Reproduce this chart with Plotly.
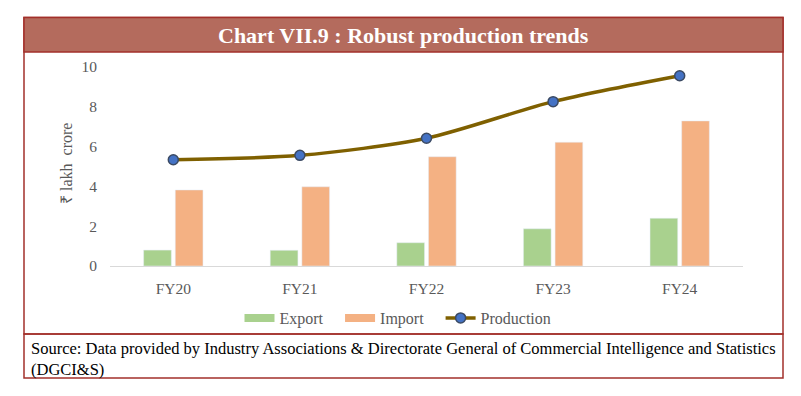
import plotly.graph_objects as go

categories = ["FY20", "FY21", "FY22", "FY23", "FY24"]
export_vals = [0.80, 0.79, 1.17, 1.87, 2.40]
import_vals = [3.82, 3.98, 5.49, 6.22, 7.29]
production_vals = [5.34, 5.56, 6.42, 8.26, 9.56]
y_ticks = [0, 2, 4, 6, 8, 10]

W, H = 801, 396
def px(x):
    return x / W
def py(y):
    return 1 - y / H

SERIF = "Liberation Serif, Georgia, serif"
GRAY = "#595959"
GREEN = "#A9D18E"
ORANGE = "#F4B183"
BROWN = "#7F6000"
BLUE = "#4472C4"
BORDER = "#A2302B"
BAND = "#B46B5D"
PAD = "\u00a0\u00a0\u00a0"

fig = go.Figure()
fig.add_trace(go.Bar(x=categories, y=export_vals, name="Export", marker_color=GREEN,
                     showlegend=False))
fig.add_trace(go.Bar(x=categories, y=import_vals, name="Import", marker_color=ORANGE,
                     showlegend=False))
# legend-only entries with wide swatches
fig.add_trace(go.Scatter(x=[None], y=[None], mode="lines", name="Export" + PAD,
                         line=dict(color=GREEN, width=8)))
fig.add_trace(go.Scatter(x=[None], y=[None], mode="lines", name="Import" + PAD,
                         line=dict(color=ORANGE, width=8)))
fig.add_trace(go.Scatter(x=categories, y=production_vals, name="Production",
                         mode="lines+markers",
                         line=dict(color=BROWN, width=3.5, shape="spline", smoothing=0.8),
                         marker=dict(size=10, color=BLUE, line=dict(color="#3B4A63", width=1.5))))

shapes = [
    dict(type="rect", xref="paper", yref="paper", x0=px(24), x1=px(783), y0=py(334), y1=py(17.5),
         line=dict(color=BORDER, width=1.5), fillcolor="rgba(0,0,0,0)", layer="below"),
    dict(type="rect", xref="paper", yref="paper", x0=px(24), x1=px(783), y0=py(52), y1=py(17.5),
         line=dict(color=BORDER, width=1.5), fillcolor=BAND, layer="below"),
    dict(type="rect", xref="paper", yref="paper", x0=px(24), x1=px(783), y0=py(378), y1=py(334),
         line=dict(color=BORDER, width=1.5), fillcolor="rgba(0,0,0,0)", layer="below"),
]

annotations = [
    dict(text="<b>Chart VII.9 : Robust production trends</b>", xref="paper", yref="paper",
         x=px(403.5), y=py(35.5), xanchor="center", yanchor="middle", showarrow=False,
         font=dict(family=SERIF, size=22, color="white")),
    dict(text="₹ lakh  crore", xref="paper", yref="paper", x=px(66), y=py(164),
         xanchor="center", yanchor="middle", textangle=-90, showarrow=False,
         font=dict(family=SERIF, size=16, color=GRAY)),
    dict(text="Source: Data provided by Industry Associations &amp; Directorate General of Commercial Intelligence and Statistics<br>(DGCI&amp;S)",
         xref="paper", yref="paper", x=px(29), y=py(337), xanchor="left", yanchor="top",
         align="left", showarrow=False, font=dict(family=SERIF, size=16.5, color="black")),
]

fig.update_layout(
    width=W, height=H,
    margin=dict(l=0, r=0, t=0, b=0, autoexpand=False),
    paper_bgcolor="white", plot_bgcolor="white",
    barmode="group", bargap=0.5, bargroupgap=0.125,
    shapes=shapes, annotations=annotations,
    legend=dict(orientation="h", x=px(398), y=py(318), xanchor="center", yanchor="middle",
                font=dict(family=SERIF, size=16, color=GRAY), itemwidth=30,
                bgcolor="rgba(0,0,0,0)"),
    xaxis=dict(domain=[px(110), px(743)], showgrid=False, showline=True, linecolor="#D9D9D9",
               linewidth=1, ticks="", tickfont=dict(family=SERIF, size=15.5, color=GRAY),
               ticklabelstandoff=8, zeroline=False, automargin=False),
    yaxis=dict(domain=[py(266), py(67)], range=[0, 10], tickvals=y_ticks, showgrid=False,
               showline=False, zeroline=False, ticks="", automargin=False,
               tickfont=dict(family=SERIF, size=15.5, color=GRAY), ticklabelstandoff=12),
)

fig.write_html("out.html", config={"displayModeBar": False},
               post_script="document.body.style.margin='0';document.body.style.padding='0';document.documentElement.style.overflow='hidden';")
